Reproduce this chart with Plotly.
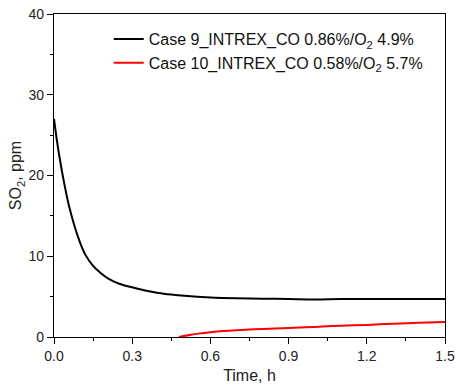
import plotly.graph_objects as go

t9 = [0, 0.01, 0.02, 0.03, 0.04, 0.05, 0.06, 0.08, 0.10, 0.12, 0.15, 0.18, 0.21, 0.25,
      0.30, 0.35, 0.40, 0.45, 0.50, 0.60, 0.70, 0.80, 0.90, 1.00, 1.10, 1.20, 1.30, 1.40, 1.50]
so2_9 = [27.0, 24.6, 22.5, 20.6, 18.9, 17.3, 15.9, 13.6, 11.7, 10.2, 8.8, 7.9, 7.2, 6.6,
         6.15, 5.75, 5.45, 5.25, 5.1, 4.9, 4.8, 4.75, 4.7, 4.65, 4.7, 4.7, 4.7, 4.7, 4.7]
t10 = [0.48, 0.52, 0.56, 0.60, 0.65, 0.70, 0.80, 0.90, 1.00, 1.10, 1.20, 1.30, 1.40, 1.50]
so2_10 = [0, 0.25, 0.45, 0.6, 0.75, 0.85, 1.0, 1.1, 1.25, 1.4, 1.5, 1.65, 1.75, 1.85]
name9 = "Case 9_INTREX_CO 0.86%/O<sub>2</sub> 4.9%"
name10 = "Case 10_INTREX_CO 0.58%/O<sub>2</sub> 5.7%"
xticks = [0.0, 0.3, 0.6, 0.9, 1.2, 1.5]
yticks = [0, 10, 20, 30, 40]

FONT = "Liberation Sans, Arial"
fig = go.Figure()
fig.add_trace(go.Scatter(x=t9, y=so2_9, mode="lines", name=name9,
                         line=dict(color="black", width=2, shape="spline")))
fig.add_trace(go.Scatter(x=t10, y=so2_10, mode="lines", name=name10,
                         line=dict(color="#ff0000", width=2, shape="spline")))

axis_common = dict(showline=True, linecolor="black", linewidth=1.3, mirror=True,
                   showgrid=False, zeroline=False, ticks="outside", ticklen=6,
                   tickwidth=1.3, tickcolor="black", ticklabeloverflow="allow",
                   automargin=False,
                   tickfont=dict(family=FONT, size=14, color="#222"))
fig.update_xaxes(range=[0, 1.5], tickvals=xticks, ticktext=[f"{v:.1f}" for v in xticks],
                 title=dict(text="Time, h", font=dict(family=FONT, size=16, color="#222"), standoff=6),
                 minor=dict(ticks="outside", ticklen=3, tickwidth=1.3, tickcolor="black", dtick=0.15),
                 **axis_common)
fig.update_yaxes(range=[0, 40], tickvals=yticks,
                 title=dict(text="SO<sub>2</sub>, ppm", font=dict(family=FONT, size=16, color="#222"), standoff=2),
                 minor=dict(ticks="outside", ticklen=3, tickwidth=1.3, tickcolor="black", dtick=5),
                 **axis_common)
fig.update_layout(width=455, height=387, margin=dict(l=54, r=10, t=14, b=50),
                  plot_bgcolor="white", paper_bgcolor="white", showlegend=True,
                  legend=dict(x=0.14, y=0.975, xanchor="left", yanchor="top",
                              bgcolor="rgba(0,0,0,0)", tracegroupgap=0,
                              font=dict(family=FONT, size=16, color="#111")))
fig.write_html("out.html")
